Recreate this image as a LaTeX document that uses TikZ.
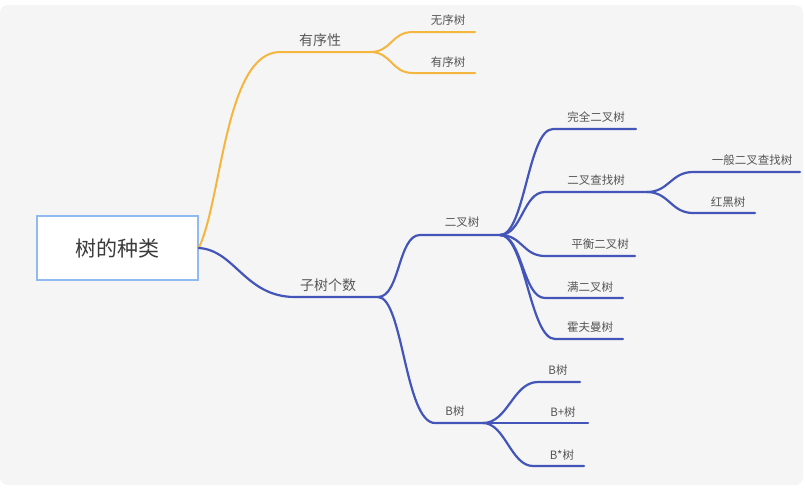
\documentclass[tikz,border=0pt]{standalone}
\usepackage{fontspec}
\newfontfamily\cjk{Noto Sans CJK SC}
\definecolor{bgC}{HTML}{F5F5F5}
\definecolor{orangeC}{HTML}{F4B63F}
\definecolor{blueC}{HTML}{4355B9}
\definecolor{rootB}{HTML}{90BAF0}
\definecolor{txtC}{HTML}{555555}
\definecolor{rootT}{HTML}{3A3A3A}
\begin{document}
\begin{tikzpicture}[x=1pt,y=-1pt,
  oline/.style={draw=orangeC, line width=2pt, line cap=round},
  bline/.style={draw=blueC, line width=2.2pt, line cap=round},
  lbl/.style={font=\cjk\fontsize{11.5}{13}\selectfont, text=txtC, inner sep=0pt},
  mlbl/.style={font=\cjk\fontsize{14}{16}\selectfont, text=rootT!85, inner sep=0pt},
  rootbox/.style={draw=rootB, line width=1.5pt, fill=white, minimum width=161pt, minimum height=64pt, font=\cjk\fontsize{21}{24}\selectfont, text=rootT}]
\useasboundingbox (0,0) rectangle (805,496);
\fill[white] (0,0) rectangle (805,496);
\fill[bgC, rounded corners=8pt] (0,5) rectangle (803,485);

% root
\node[rootbox] (root) at (117.5,248) {树的种类};

% coordinates
\coordinate (o0) at (280,52);  \coordinate (o1) at (370,52);
\coordinate (oa0) at (413,32); \coordinate (oa1) at (475,32);
\coordinate (ob0) at (413,73); \coordinate (ob1) at (475,73);
\coordinate (s0) at (295,297); \coordinate (s1) at (378,297);
\coordinate (e0) at (420,235); \coordinate (e1) at (500,235);
\coordinate (b0) at (435,423); \coordinate (b1) at (483,423);
\coordinate (c10) at (553,129); \coordinate (c11) at (636,129);
\coordinate (c20) at (545,192); \coordinate (c21) at (647,192);
\coordinate (c30) at (545,256); \coordinate (c31) at (635,256);
\coordinate (c40) at (545,298); \coordinate (c41) at (623,298);
\coordinate (c50) at (555,339); \coordinate (c51) at (623,339);
\coordinate (d10) at (693,172); \coordinate (d11) at (800,172);
\coordinate (d20) at (693,213); \coordinate (d21) at (755,213);
\coordinate (f10) at (538,382); \coordinate (f11) at (580,382);
\coordinate (f21) at (588,423);
\coordinate (f30) at (533,466); \coordinate (f31) at (584,466);

% orange branch
\draw[oline] (root.east) .. controls (222,200) and (225,52) .. (o0) -- (o1);
\draw[oline] (o1) .. controls +(22,0) and +(-22,0) .. (oa0) -- (oa1);
\draw[oline] (o1) .. controls +(22,0) and +(-22,0) .. (ob0) -- (ob1);

% blue branch
\draw[bline] (root.east) .. controls (235,250) and (245,297) .. (s0) -- (s1);
\draw[bline] (s1) .. controls +(22,0) and +(-22,0) .. (e0) -- (e1);
\draw[bline] (s1) .. controls +(25,0) and +(-30,0) .. (b0) -- (b1);
\draw[bline] (e1) .. controls +(25,0) and +(-25,0) .. (c10) -- (c11);
\draw[bline] (e1) .. controls +(22,0) and +(-22,0) .. (c20) -- (c21);
\draw[bline] (e1) .. controls +(22,0) and +(-22,0) .. (c30) -- (c31);
\draw[bline] (e1) .. controls +(22,0) and +(-22,0) .. (c40) -- (c41);
\draw[bline] (e1) .. controls +(25,0) and +(-25,0) .. (c50) -- (c51);
\draw[bline] (c21) .. controls +(22,0) and +(-22,0) .. (d10) -- (d11);
\draw[bline] (c21) .. controls +(22,0) and +(-22,0) .. (d20) -- (d21);
\draw[bline] (b1) .. controls +(25,0) and +(-25,0) .. (f10) -- (f11);
\draw[bline] (b1) -- (f21);
\draw[bline] (b1) .. controls +(22,0) and +(-22,0) .. (f30) -- (f31);

% labels
\node[mlbl] (l1) at (320,40) {有序性};
\node[mlbl] (l2) at (328,285) {子树个数};
\node[lbl] (l3) at (448,20) {无序树};
\node[lbl] (l4) at (448,62) {有序树};
\node[lbl] (l5) at (462,222) {二叉树};
\node[lbl] (l6) at (455,411) {B树};
\node[lbl] (l7) at (596,117) {完全二叉树};
\node[lbl] (l8) at (596,180) {二叉查找树};
\node[lbl] (l9) at (600,244) {平衡二叉树};
\node[lbl] (l10) at (590,287) {满二叉树};
\node[lbl] (l11) at (590,327) {霍夫曼树};
\node[lbl] (l12) at (752,160) {一般二叉查找树};
\node[lbl] (l13) at (728,202) {红黑树};
\node[lbl] (l14) at (558,370) {B树};
\node[lbl] (l15) at (563,412) {B+树};
\node[lbl] (l16) at (562,455) {B*树};
\end{tikzpicture}
\end{document}
